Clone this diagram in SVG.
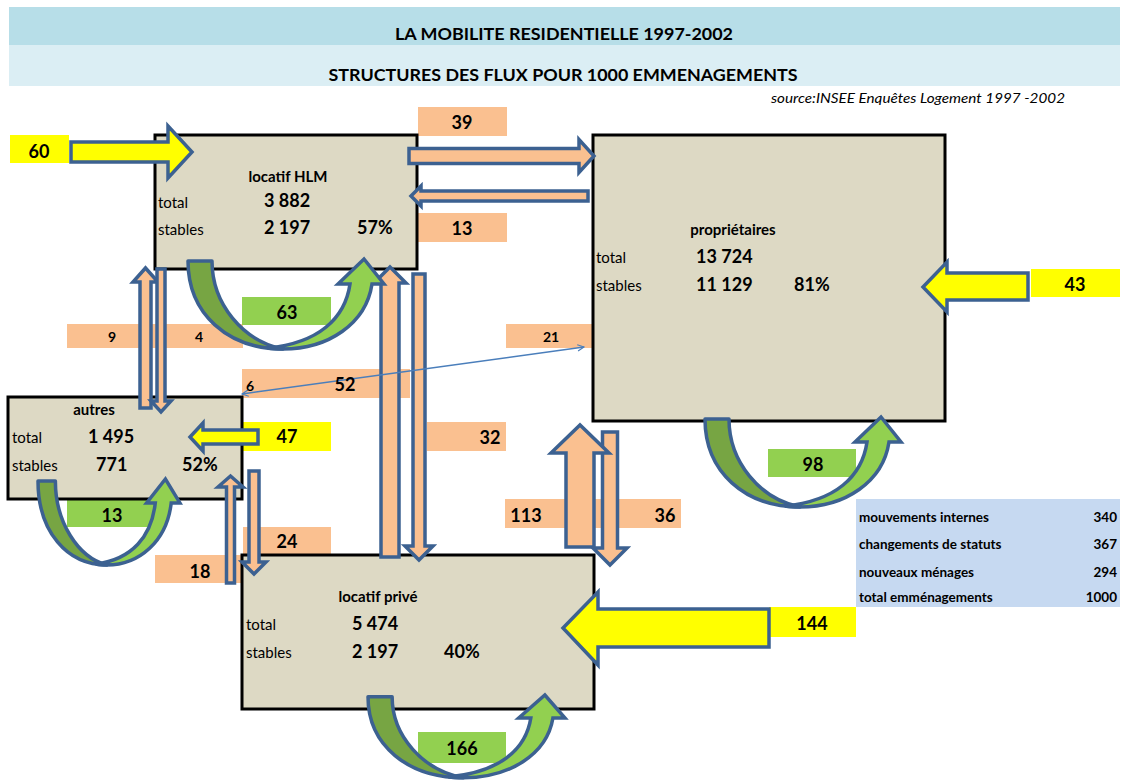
<svg xmlns="http://www.w3.org/2000/svg" width="1125" height="782" viewBox="0 0 1125 782">
<style>
.t{font-family:Lato,"Liberation Sans",sans-serif;fill:#000}
.box{fill:#ddd9c4;stroke:#000;stroke-width:3}
.pe{fill:#fac090}
.ye{fill:#ffff00}
.gr{fill:#92d050}
.ar{stroke:#3c6191;stroke-width:3.5;stroke-linejoin:miter}
.ap{fill:#fac090}
.ay{fill:#ffff00}
.ud{fill:#77a543;stroke:#3c6191;stroke-width:3.5;stroke-linejoin:round}
.ul{fill:#92d050;stroke:#3c6191;stroke-width:3.5;stroke-linejoin:miter}
.nm{font-weight:bold;font-size:15px}
.lb{font-size:15px}
.big{font-weight:bold;font-size:18px}
.lab{font-weight:bold;font-size:18px;text-anchor:middle}
.sm{font-weight:bold;font-size:14px;text-anchor:middle}
.st{font-weight:bold;font-size:13.5px}
</style>
<defs>
<marker id="v" viewBox="0 0 10 10" refX="9" refY="5" markerWidth="8" markerHeight="8" orient="auto-start-reverse" markerUnits="userSpaceOnUse">
<path d="M1,1 L9,5 L1,9" fill="none" stroke="#4a7ebb" stroke-width="1.5"/>
</marker>
<g id="uarrow">
<path class="ud" vector-effect="non-scaling-stroke" d="M0,2 L24,2 C24,45 55,82 95,90 C40,90 0,55 0,2 Z"/>
<path class="ul" vector-effect="non-scaling-stroke" d="M95,90 C140,90 178,65 184,25 L196,25 L176,0 L150,25 L162,25 C157,60 130,84 80,89 C85,90 90,90 95,90 Z"/>
</g>
</defs>

<g id="titles">
<rect x="9" y="7" width="1111" height="38" fill="#b7dee8"/>
<rect x="9" y="45" width="1111" height="41" fill="#dbeef4"/>
<text class="t" x="564" y="40" text-anchor="middle" font-weight="bold" font-size="17" textLength="338" lengthAdjust="spacingAndGlyphs">LA MOBILITE RESIDENTIELLE 1997-2002</text>
<text class="t" x="563" y="81" text-anchor="middle" font-weight="bold" font-size="17" textLength="469" lengthAdjust="spacingAndGlyphs">STRUCTURES DES FLUX POUR 1000 EMMENAGEMENTS</text>
<text class="t" x="1065" y="103" text-anchor="end" font-style="italic" font-size="13.5" textLength="294" lengthAdjust="spacingAndGlyphs">source:INSEE Enquêtes Logement 1997 -2002</text>
</g>

<g id="label-rects">
<rect class="ye" x="10" y="135" width="59" height="28"/>
<rect class="pe" x="418" y="107" width="89" height="29"/>
<rect class="pe" x="418" y="213" width="89" height="29"/>
<rect class="pe" x="67" y="324" width="176" height="24"/>
<rect class="pe" x="506" y="324" width="87" height="24"/>
<rect class="gr" x="242" y="297" width="89" height="28"/>
<rect class="pe" x="242" y="369" width="168" height="29"/>
<rect class="pe" x="427" y="422" width="79" height="29"/>
<rect class="ye" x="243" y="422" width="88" height="29"/>
<rect class="ye" x="1031" y="269" width="89" height="28"/>
<rect class="gr" x="768" y="449" width="88" height="28"/>
<rect class="pe" x="505" y="499" width="176" height="29"/>
<rect class="gr" x="67" y="500" width="89" height="27"/>
<rect class="pe" x="243" y="527" width="88" height="28"/>
<rect class="pe" x="155" y="555" width="87" height="28"/>
<rect class="ye" x="769" y="607" width="87" height="30"/>
<rect class="gr" x="418" y="732" width="88" height="31"/>
<rect x="856" y="499" width="264" height="108" fill="#c6d9f1"/>
</g>

<g id="node-hlm">
<rect class="box" x="155" y="135" width="262" height="134"/>
<text class="t nm" x="288" y="182" text-anchor="middle">locatif HLM</text>
<text class="t lb" x="158" y="208">total</text>
<text class="t big" x="264" y="207">3 882</text>
<text class="t lb" x="158" y="235">stables</text>
<text class="t big" x="264" y="234">2 197</text>
<text class="t big" x="357" y="234">57%</text>
</g>

<g id="node-proprietaires">
<rect class="box" x="593" y="135" width="352" height="286"/>
<text class="t nm" x="733" y="235" text-anchor="middle">propriétaires</text>
<text class="t lb" x="596" y="263">total</text>
<text class="t big" x="696" y="263">13 724</text>
<text class="t lb" x="596" y="291">stables</text>
<text class="t big" x="696" y="291">11 129</text>
<text class="t big" x="794" y="291">81%</text>
</g>

<g id="node-autres">
<rect class="box" x="8" y="397" width="234" height="102"/>
<text class="t nm" x="94" y="415" text-anchor="middle">autres</text>
<text class="t lb" x="12" y="443">total</text>
<text class="t big" x="88" y="443">1 495</text>
<text class="t lb" x="12" y="471">stables</text>
<text class="t big" x="96" y="471">771</text>
<text class="t big" x="182" y="471">52%</text>
</g>

<g id="node-prive">
<rect class="box" x="242" y="555" width="352" height="154"/>
<text class="t nm" x="378" y="602" text-anchor="middle">locatif privé</text>
<text class="t lb" x="246" y="630">total</text>
<text class="t big" x="352" y="630">5 474</text>
<text class="t lb" x="246" y="658">stables</text>
<text class="t big" x="352" y="658">2 197</text>
<text class="t big" x="444" y="658">40%</text>
</g>

<g id="connectors">
<polygon class="ar ay" points="71,142 168,142 168,126 192,152 168,178 168,162 71,162"/>
<polygon class="ar ap" points="409,148.5 579,148.5 579,139.5 594,156 579,172.5 579,163.5 409,163.5"/>
<polygon class="ar ap" points="588,191 421,191 421,186 411,196 421,206 421,201 588,201"/>
<polygon class="ar ay" points="258,430 203,430 203,423 190,437 203,451 203,444 258,444"/>
<polygon class="ar ay" points="1028,273 947,273 947,262 923,287 947,312 947,300 1028,300"/>
<polygon class="ar ay" points="769,609 598,609 598,592 563,628 598,665 598,647 769,647"/>

<polygon class="ar ap" points="140,408 140,282 133,282 145.5,268 158,282 151,282 151,408"/>
<polygon class="ar ap" points="157,269 165,269 165,401 171,401 161,412 151,401 157,401"/>
<polygon class="ar ap" points="413,274 425,274 425,546 433,546 419,560 405,546 413,546"/>
<polygon class="ar ap" points="381,557 381,283 374,283 390,267 406,283 399,283 399,557"/>
<polygon class="ar ap" points="602.5,432 617.5,432 617.5,548 627,548 610,565 593,548 602.5,548"/>
<polygon class="ar ap" points="566,547 566,453 551,453 580,425 609,453 594,453 594,547"/>
<polygon class="ar ap" points="226.5,583 226.5,487 218,487 230.5,476 243,487 234.5,487 234.5,583"/>
<polygon class="ar ap" points="249,471 259,471 259,562 266,562 254,574 242,562 249,562"/>

<use href="#uarrow" transform="translate(188,259)"/>
<use href="#uarrow" transform="translate(38,479) scale(0.724,0.956)"/>
<use href="#uarrow" transform="translate(705,417)"/>
<use href="#uarrow" transform="translate(368,695) scale(1.005,0.92)"/>

<line x1="242" y1="394" x2="584" y2="347" stroke="#4a7ebb" stroke-width="1.5" marker-start="url(#v)" marker-end="url(#v)"/>
</g>

<g id="labels">
<text class="t lab" x="39" y="158">60</text>
<text class="t lab" x="462" y="129">39</text>
<text class="t lab" x="462" y="235">13</text>
<text class="t sm" x="112" y="342">9</text>
<text class="t sm" x="199" y="342">4</text>
<text class="t sm" x="551" y="342">21</text>
<text class="t lab" x="287" y="319">63</text>
<text class="t sm" x="250" y="391">6</text>
<text class="t lab" x="345" y="391">52</text>
<text class="t lab" x="490" y="444">32</text>
<text class="t lab" x="287" y="443">47</text>
<text class="t lab" x="1075" y="291">43</text>
<text class="t lab" x="813" y="471">98</text>
<text class="t lab" x="526" y="522">113</text>
<text class="t lab" x="665" y="522">36</text>
<text class="t lab" x="112" y="522">13</text>
<text class="t lab" x="287" y="548">24</text>
<text class="t lab" x="200" y="578">18</text>
<text class="t lab" x="812" y="630">144</text>
<text class="t lab" x="462" y="755">166</text>
<text class="t st" x="859" y="522">mouvements internes</text>
<text class="t st" x="1117" y="522" text-anchor="end">340</text>
<text class="t st" x="859" y="549">changements de statuts</text>
<text class="t st" x="1117" y="549" text-anchor="end">367</text>
<text class="t st" x="859" y="577">nouveaux ménages</text>
<text class="t st" x="1117" y="577" text-anchor="end">294</text>
<text class="t st" x="859" y="602">total emménagements</text>
<text class="t st" x="1117" y="602" text-anchor="end">1000</text>
</g>
</svg>
